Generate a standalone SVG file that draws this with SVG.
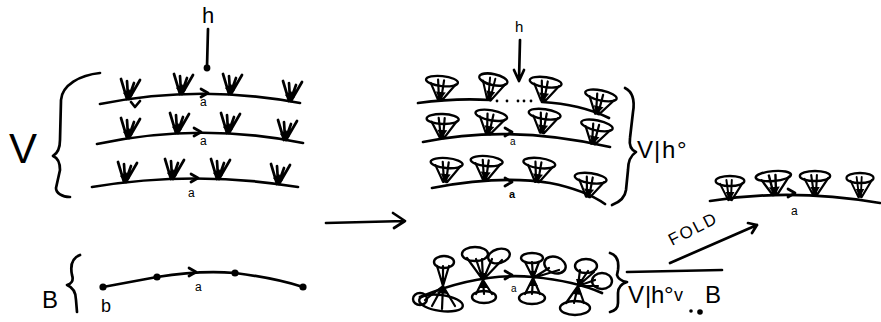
<svg xmlns="http://www.w3.org/2000/svg" xmlns:xlink="http://www.w3.org/1999/xlink" width="881" height="322" viewBox="0 0 881 322">
<style>
.ln{fill:none;stroke:#000;stroke-width:2.7;stroke-linecap:round;stroke-linejoin:round}
.th{fill:none;stroke:#000;stroke-width:2.2;stroke-linecap:round;stroke-linejoin:round}
.el{fill:none;stroke:#000;stroke-width:2.4}
.tx{font-family:"Liberation Sans","DejaVu Sans",sans-serif;fill:#000}
</style>
<defs>
<g id="tuft">
<path class="ln" d="M-7,-20 L-1,0 M-1,-18 L0,-2 M12,-19 L1,0 M6,-16 L1,-2" stroke-width="3"/>
<path d="M-5,-6 L0,0 L5,-4 L1,-10 Z" fill="#000"/>
</g>
<g id="tree">
<path class="th" d="M-11,-16 L-2,0 M-4,-20 L-1,0 M2,-20 L1,0 M14,-17 L2,0"/>
<ellipse class="el" cx="0" cy="-19" rx="16" ry="5"/>
<path d="M-5,-8 L0,0 L5,-8 Z" fill="#000"/>
</g>
<path id="chev" class="ln" d="M-6,-4 L1,0 L-6,4"/>
</defs>

<!-- left: V stack -->
<g id="h-left">
<text class="tx" x="202" y="23" font-size="22">h</text>
<path class="ln" d="M208,29 L207,67"/>
<circle cx="207" cy="68" r="3.4" fill="#000"/>
</g>
<g id="V-left">
<text class="tx" x="9" y="163" font-size="42">V</text>
<path class="ln" d="M100,73 C80,75 62,85 61,100 L60,140 C60,148 58,153 53,156 C58,158 60,163 60,170 L56,188 C56,193 62,197 70,197"/>
</g>
<g id="row1-left">
<path class="ln" d="M100,104 Q200,84 300,103"/>
<use xlink:href="#tuft" transform="translate(128,99)"/>
<use xlink:href="#tuft" transform="translate(181,94)"/>
<use xlink:href="#tuft" transform="translate(230,94)"/>
<use xlink:href="#tuft" transform="translate(290,101)"/>
<use xlink:href="#chev" transform="translate(207,93)"/>
<path class="ln" d="M131,102 L135,107 L140,101"/>
<text class="tx" x="200" y="106" font-size="12">a</text>
</g>
<g id="row2-left">
<path class="ln" d="M97,144 Q200,122 303,143"/>
<use xlink:href="#tuft" transform="translate(128,138)"/>
<use xlink:href="#tuft" transform="translate(177,133)"/>
<use xlink:href="#tuft" transform="translate(228,133)"/>
<use xlink:href="#tuft" transform="translate(285,140)"/>
<use xlink:href="#chev" transform="translate(200,132)"/>
<text class="tx" x="200" y="145" font-size="12">a</text>
</g>
<g id="row3-left">
<path class="ln" d="M92,187 Q195,170 298,187"/>
<use xlink:href="#tuft" transform="translate(125,182)"/>
<use xlink:href="#tuft" transform="translate(172,179)"/>
<use xlink:href="#tuft" transform="translate(218,179)"/>
<use xlink:href="#tuft" transform="translate(278,184)"/>
<use xlink:href="#chev" transform="translate(197,178)"/>
<text class="tx" x="188" y="197" font-size="12">a</text>
</g>

<!-- left: B -->
<g id="B-left">
<text class="tx" x="42" y="308" font-size="24">B</text>
<path class="ln" d="M80,255 C72,258 70,265 72,275 C74,281 71,284 67,285 C72,287 76,292 76,300 L77,312"/>
<path class="ln" d="M103,287 L157,277 Q200,270 235,273 Q275,278 303,287"/>
<circle cx="103" cy="287" r="3.6"/>
<circle cx="157" cy="277" r="3.6"/>
<circle cx="235" cy="273" r="3.6"/>
<circle cx="303" cy="287" r="3.6"/>
<use xlink:href="#chev" transform="translate(195,272)"/>
<text class="tx" x="195" y="291" font-size="12">a</text>
<text class="tx" x="101" y="312" font-size="18">b</text>
</g>

<!-- main arrow -->
<g id="arrow-main">
<path class="ln" d="M326,223 L405,221 M393,213 L405,221 L394,228"/>
</g>

<!-- middle stack -->
<g id="h-mid">
<text class="tx" x="515" y="32" font-size="15">h</text>
<path class="ln" d="M520,40 L519,80 M514,70 L519,81 L524,70"/>
</g>
<g id="row1-mid">
<path class="ln" d="M418,103 Q455,98 490,100 M542,102 Q580,104 609,118"/>
<g fill="#000"><circle cx="497" cy="101" r="1.4"/><circle cx="507" cy="101" r="1.4"/><circle cx="518" cy="101" r="1.4"/><circle cx="524" cy="101" r="1.4"/><circle cx="531" cy="101" r="1.4"/></g>
<use xlink:href="#tree" transform="translate(440,100) rotate(6)"/>
<use xlink:href="#tree" transform="translate(489,100) rotate(12) scale(0.9,1.1)"/>
<use xlink:href="#tree" transform="translate(543,101) rotate(8)"/>
<use xlink:href="#tree" transform="translate(597,114) rotate(12)"/>
</g>
<g id="row2-mid">
<path class="ln" d="M423,142 Q510,124 610,147"/>
<use xlink:href="#tree" transform="translate(442,138) rotate(2)"/>
<use xlink:href="#tree" transform="translate(488,134) rotate(10)"/>
<use xlink:href="#tree" transform="translate(542,133) rotate(8)"/>
<use xlink:href="#tree" transform="translate(593,144) rotate(12)"/>
<use xlink:href="#chev" transform="translate(511,132)"/>
<text class="tx" x="510" y="145" font-size="10">a</text>
</g>
<g id="row3-mid">
<path class="ln" d="M432,188 Q500,175 550,183 Q585,190 605,204"/>
<use xlink:href="#tree" transform="translate(445,182) rotate(5)"/>
<use xlink:href="#tree" transform="translate(485,180) rotate(5)"/>
<use xlink:href="#tree" transform="translate(537,182) rotate(7)"/>
<use xlink:href="#tree" transform="translate(588,197) rotate(8)"/>
<use xlink:href="#chev" transform="translate(511,182)"/>
<text class="tx" x="509" y="198" font-size="11" font-weight="bold">a</text>
</g>
<g id="Vh-label">
<path class="ln" d="M625,88 C633,92 635,100 633,112 L630,138 C629,145 631,150 636,152 C630,156 628,162 628,170 L626,190 C625,198 620,202 612,205"/>
<text class="tx" font-size="24" x="637 654 662 677" y="158">V|h°</text>
</g>

<!-- right fold result -->
<g id="row-right">
<path class="ln" d="M710,201 Q790,188 880,203"/>
<use xlink:href="#tree" transform="translate(730,200) scale(0.9,1)"/>
<use xlink:href="#tree" transform="translate(775,195) rotate(-5) scale(1.1,1)"/>
<use xlink:href="#tree" transform="translate(815,195) scale(0.95,1)"/>
<use xlink:href="#tree" transform="translate(860,197) scale(0.85,1)"/>
<use xlink:href="#chev" transform="translate(794,193)"/>
<text class="tx" x="791" y="215" font-size="12">a</text>
</g>
<g id="fold">
<text class="tx" font-size="17" letter-spacing="2" transform="translate(672,246) rotate(-27)">FOLD</text>
<path class="ln" d="M670,263 L757,225 M748,223 L757,225 L752,233"/>
</g>

<!-- bottom middle bundle -->
<g id="bundle">
<path class="ln" d="M420,297 Q480,272 533,277 Q575,281 602,293"/>
<path class="th" d="M443,286 L437,266 M443,286 L443,266 M443,286 L449,266 M443,286 L425,300 M443,286 L432,306 M443,286 L442,309 M443,286 L455,306"/>
<path d="M440,278 L443,286 L446,278 Z M437,293 L443,286 L448,294 Z" fill="#000"/>
<ellipse class="el" cx="444" cy="262" rx="10" ry="6"/>
<ellipse class="el" cx="441" cy="303" rx="22" ry="8" transform="rotate(8 441 303)"/>
<ellipse class="el" cx="420" cy="299" rx="7" ry="6"/>
<path class="th" d="M483,280 L467,258 M483,280 L476,259 M483,280 L482,259 M483,280 L492,259 M483,280 L502,260 M483,280 L476,294 M483,280 L484,294 M483,280 L492,294"/>
<path d="M480,273 L483,280 L487,273 Z M479,288 L483,280 L488,288 Z" fill="#000"/>
<ellipse class="el" cx="475" cy="254" rx="13" ry="7"/>
<ellipse class="el" cx="499" cy="256" rx="11" ry="7" transform="rotate(-15 499 256)"/>
<ellipse class="el" cx="484" cy="297" rx="12" ry="6"/>
<path class="th" d="M533,278 L525,262 M533,278 L532,262 M533,278 L539,262 M533,278 L549,268 M533,278 L559,270 M533,278 L525,294 M533,278 L532,294 M533,278 L540,294"/>
<path d="M530,271 L533,278 L537,271 Z M529,286 L533,278 L538,286 Z" fill="#000"/>
<ellipse class="el" cx="532" cy="258" rx="11" ry="5"/>
<ellipse class="el" cx="555" cy="265" rx="11" ry="8" transform="rotate(20 555 265)"/>
<ellipse class="el" cx="532" cy="298" rx="13" ry="6"/>
<path class="th" d="M578,286 L580,270 M578,286 L588,271 M578,286 L594,272 M578,286 L595,280 M578,286 L598,286 M578,286 L566,303 M578,286 L574,303 M578,286 L584,303"/>
<path d="M576,279 L578,286 L583,279 Z M573,294 L578,286 L582,295 Z" fill="#000"/>
<ellipse class="el" cx="586" cy="266" rx="11" ry="7"/>
<ellipse class="el" cx="602" cy="281" rx="10" ry="8"/>
<ellipse class="el" cx="575" cy="308" rx="15" ry="7"/>
<use xlink:href="#chev" transform="translate(511,275)"/>
<text class="tx" x="511" y="292" font-size="10">a</text>
</g>
<g id="quotient">
<path class="ln" d="M610,253 C617,255 619,262 618,270 L617,275 C618,279 621,281 627,282 C621,284 618,287 618,293 L618,303 C618,308 614,311 610,312"/>
<path class="ln" d="M627,272 L722,270"/>
<text class="tx" font-size="24" x="628 645 651 664" y="303">V|h°</text>
<text class="tx" font-size="18" x="674" y="301">v</text>
<circle cx="691" cy="311" r="1.8"/>
<circle cx="700" cy="312" r="2.8"/>
<text class="tx" font-size="24" x="705" y="303">B</text>
</g>
</svg>
